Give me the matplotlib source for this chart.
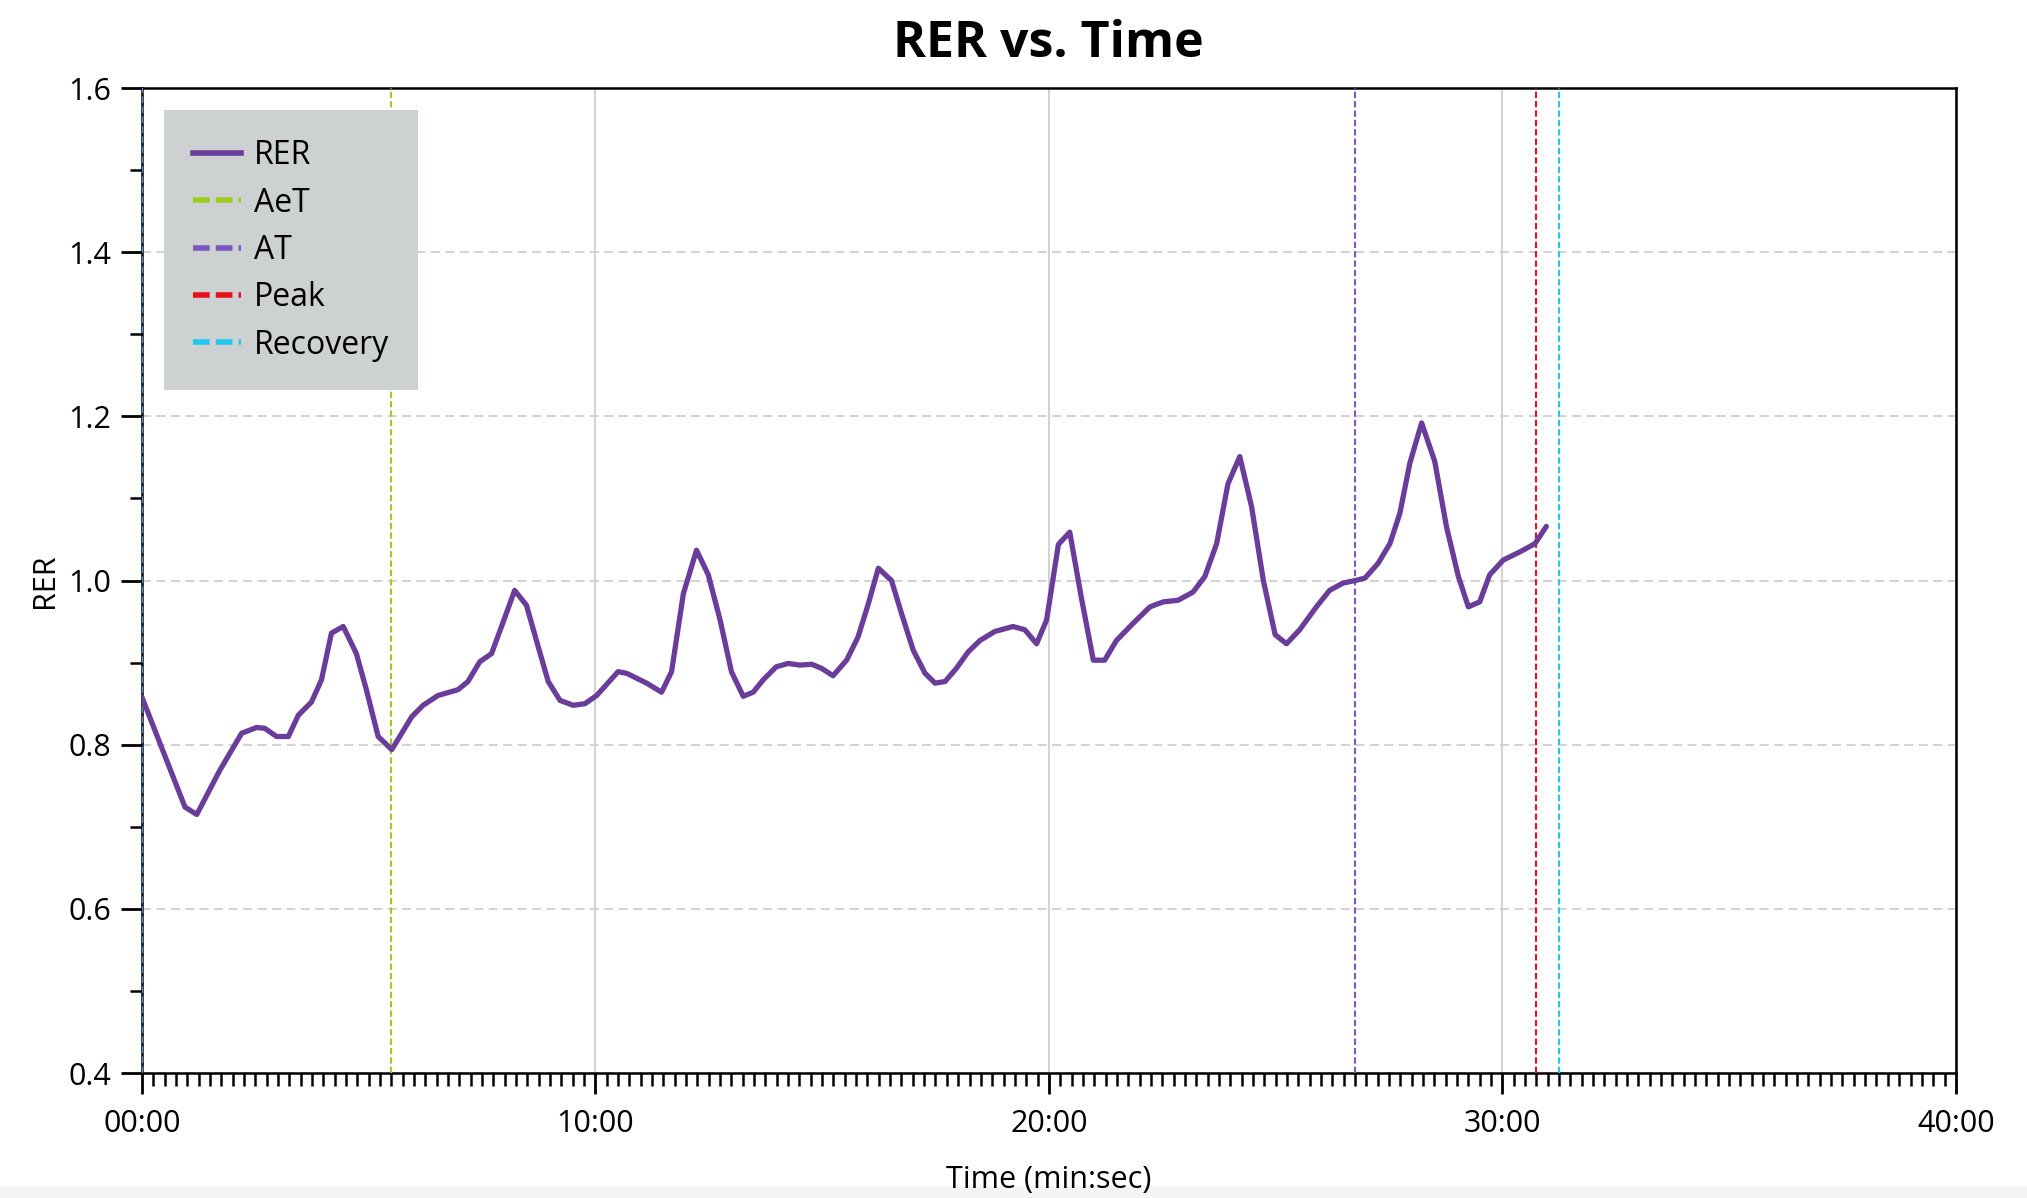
import matplotlib
matplotlib.use("Agg")
import matplotlib.pyplot as plt
from matplotlib.lines import Line2D
from matplotlib.patches import Rectangle
from matplotlib.ticker import MultipleLocator, FuncFormatter

plt.rcParams["font.family"] = ["Open Sans", "DejaVu Sans"]

# RER samples, time in minutes
time_min = [
    0.00, 0.95, 1.21, 1.72, 2.20, 2.53, 2.71, 2.97, 3.23, 3.45,
    3.74, 3.96, 4.18, 4.44, 4.73, 4.95, 5.21, 5.51, 5.95, 6.20,
    6.53, 6.97, 7.19, 7.45, 7.71, 7.97, 8.22, 8.48, 8.70, 8.96,
    9.22, 9.51, 9.77, 10.03, 10.50, 10.69, 11.13, 11.46, 11.68, 11.94,
    12.23, 12.49, 12.75, 13.00, 13.26, 13.48, 13.70, 13.99, 14.25, 14.51,
    14.77, 14.99, 15.24, 15.54, 15.79, 16.01, 16.24, 16.53, 16.75, 17.01,
    17.27, 17.49, 17.71, 17.96, 18.22, 18.48, 18.81, 19.21, 19.47, 19.73,
    19.95, 20.21, 20.46, 20.72, 20.98, 21.23, 21.49, 21.86, 22.23, 22.52,
    22.85, 23.18, 23.44, 23.70, 23.95, 24.21, 24.47, 24.73, 24.99, 25.24,
    25.53, 25.90, 26.19, 26.49, 26.75, 26.97, 27.26, 27.52, 27.74, 27.96,
    28.22, 28.51, 28.77, 29.03, 29.25, 29.50, 29.72, 30.02, 30.39, 30.72,
    30.97,
]
rer = [
    0.858, 0.724, 0.715, 0.769, 0.814, 0.821, 0.820, 0.810, 0.810, 0.836,
    0.852, 0.879, 0.936, 0.944, 0.911, 0.867, 0.810, 0.794, 0.834, 0.848,
    0.860, 0.867, 0.877, 0.901, 0.911, 0.950, 0.988, 0.970, 0.927, 0.877,
    0.854, 0.848, 0.850, 0.860, 0.889, 0.887, 0.875, 0.864, 0.889, 0.984,
    1.037, 1.007, 0.952, 0.889, 0.859, 0.864, 0.879, 0.895, 0.899, 0.897,
    0.898, 0.893, 0.884, 0.903, 0.931, 0.970, 1.015, 1.000, 0.960, 0.915,
    0.887, 0.875, 0.877, 0.893, 0.913, 0.927, 0.938, 0.944, 0.940, 0.923,
    0.952, 1.044, 1.059, 0.978, 0.903, 0.903, 0.927, 0.948, 0.968, 0.974,
    0.976, 0.986, 1.005, 1.045, 1.118, 1.151, 1.090, 1.000, 0.934, 0.923,
    0.940, 0.968, 0.988, 0.997, 1.000, 1.003, 1.021, 1.045, 1.082, 1.143,
    1.192, 1.145, 1.065, 1.005, 0.968, 0.974, 1.007, 1.025, 1.035, 1.045,
    1.066,
]

# threshold markers (minutes)
marker_names = ["AeT", "AT", "Peak", "Recovery"]
marker_times = [5.50, 26.75, 30.75, 31.25]
marker_colors = ["#9ccc1c", "#7e57c2", "#e8101c", "#1ec8f0"]
start_time = 0.0

RER_COLOR = "#6a3d9a"


def mmss(x, pos=None):
    total = int(round(x * 60))
    return f"{total // 60:02d}:{total % 60:02d}"


fig = plt.figure(figsize=(20.27, 11.98), dpi=100)
fig.patches.append(Rectangle((0, 0), 1, 12 / 1198, transform=fig.transFigure,
                             facecolor="#f4f4f4", edgecolor="none", zorder=-10))
ax = fig.add_axes([0.0700, 0.1043, 0.8949, 0.8222])

ax.plot(time_min, rer, color=RER_COLOR, lw=3.8, zorder=5,
        solid_joinstyle="round", solid_capstyle="round")

ax.axvline(start_time, color="#4a90c8", lw=1.6, ls=(0, (3, 1.5)), zorder=3)
for name, t, c in zip(marker_names, marker_times, marker_colors):
    ax.axvline(t, color=c, lw=1.5, ls=(0, (3, 1.5)), zorder=4)

ax.set_xlim(0, 40)
ax.set_ylim(0.4, 1.6)
ax.xaxis.set_major_locator(MultipleLocator(10))
ax.xaxis.set_minor_locator(MultipleLocator(0.25))
ax.xaxis.set_major_formatter(FuncFormatter(mmss))
ax.yaxis.set_major_locator(MultipleLocator(0.2))
ax.yaxis.set_minor_locator(MultipleLocator(0.1))
ax.yaxis.set_major_formatter(FuncFormatter(lambda v, p: f"{v:.1f}"))

ax.grid(axis="x", which="major", color="#cfcfcf", lw=1.3, ls="-", zorder=1)
ax.grid(axis="y", which="major", color="#cfcfcf", lw=1.3, ls=(0, (5, 3)), zorder=1)
ax.set_axisbelow(True)

ax.tick_params(which="major", direction="out", length=15, width=2.0, labelsize=22, pad=11)
ax.tick_params(which="minor", direction="out", length=9, width=1.8)
ax.tick_params(axis="y", which="major", pad=7)
for s in ax.spines.values():
    s.set_linewidth(1.8)
    s.set_color("black")

ax.set_xlabel("Time (min:sec)", fontsize=22)
ax.set_ylabel("RER", fontsize=22)
ax.xaxis.set_label_coords(0.5, -0.093)
ax.yaxis.set_label_coords(-0.045, 0.5)

fig.text(0.5172, 1 - 44 / 1198, "RER vs. Time", fontsize=36, fontweight="bold",
         ha="center", va="center")

handles = [Line2D([], [], color=RER_COLOR, lw=4.0)]
for c in marker_colors:
    handles.append(Line2D([], [], color=c, lw=4.0, ls=(0, (3, 1.1))))
leg = ax.legend(handles, ["RER"] + marker_names, loc="upper left", fontsize=23,
                frameon=True, fancybox=False, framealpha=1, facecolor="#cdd1d2",
                edgecolor="none", borderaxespad=0.7, borderpad=0.9,
                handlelength=1.5, handletextpad=0.4, labelspacing=0.45)
leg.set_zorder(10)

fig.savefig("out.png", dpi=100)
